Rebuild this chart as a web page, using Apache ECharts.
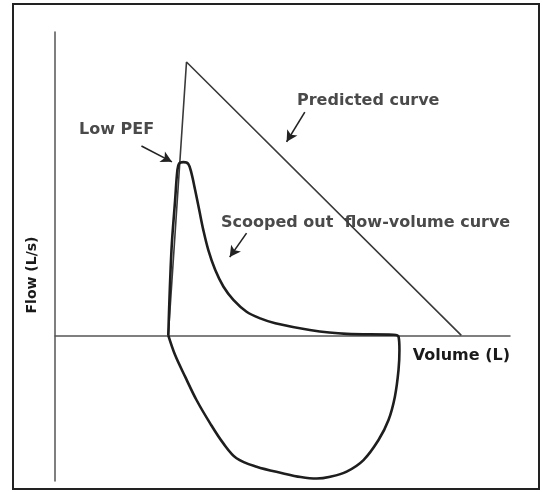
<!DOCTYPE html>
<html>
<head>
<meta charset="utf-8">
<script src="https://cdn.jsdelivr.net/npm/echarts@6/dist/echarts.min.js"></script>
<style>
  html, body { margin: 0; padding: 0; background: #fff; }
  #chart { width: 542px; height: 492px; }
</style>
</head>
<body>
<div id="chart"></div>
<script>
// volume (L) and flow (L/s), arbitrary units
const loopVolume = [2.49, 2.56, 2.64, 2.69, 2.73, 2.82, 2.93, 3.00, 3.08, 3.17, 3.26, 3.37, 3.52, 3.70, 3.92, 4.21, 4.51, 4.84, 5.60, 6.41, 7.44, 7.55,
  7.57, 7.55, 7.47, 7.33, 7.11, 6.78, 6.41, 6.05, 5.75, 5.40, 5.02, 4.43, 3.99, 3.70, 3.41, 3.11, 2.86, 2.64, 2.49]
const loopFlow = [0, 2.81, 4.46, 5.45, 5.67, 5.71, 5.65, 5.34, 4.79, 4.13, 3.47, 2.81, 2.16, 1.61, 1.17, 0.78, 0.56, 0.40, 0.18, 0.05, 0.02, -0.04,
  -0.48, -1.14, -2.02, -2.79, -3.45, -4.11, -4.49, -4.66, -4.72, -4.67, -4.55, -4.33, -4.05, -3.56, -2.90, -2.13, -1.36, -0.65, 0]

const predictedVolume = [2.49, 2.89, 8.93]
const predictedFlow = [0, 9.01, 0]

// annotation arrows: [tailX, tailY, headX, headY]
const arrows = [
  [1.90, 6.24, 2.57, 5.72],  // Low PEF
  [5.49, 7.36, 5.09, 6.38],  // Predicted curve
  [4.21, 3.37, 3.84, 2.58]   // Scooped out
]

const chart = echarts.init(document.getElementById('chart'))

const zip = (xs, ys) => xs.map((x, i) => [x, ys[i]])

const textStyle = {
  fontFamily: 'DejaVu Sans',
  fontWeight: 'bold',
  fontSize: 16,
  fill: '#4a4a4a'
}

const option = {
  backgroundColor: '#fff',
  animation: false,
  grid: { left: 55, top: 32, width: 455, height: 449 },
  xAxis: {
    type: 'value',
    min: 0,
    max: 10,
    axisLine: { onZero: true, lineStyle: { color: '#555', width: 1.5 } },
    axisTick: { show: false },
    axisLabel: { show: false },
    splitLine: { show: false },
    name: 'Volume (L)',
    nameLocation: 'end',
    nameGap: 0,
    nameTextStyle: {
      fontFamily: 'DejaVu Sans',
      fontWeight: 'bold',
      fontSize: 16,
      color: '#1a1a1a',
      align: 'right',
      verticalAlign: 'top',
      padding: [12, 0, 0, 0]
    }
  },
  yAxis: {
    type: 'value',
    min: -4.8,
    max: 10,
    axisLine: { show: true, onZero: false, lineStyle: { color: '#555', width: 1.5 } },
    axisTick: { show: false },
    axisLabel: { show: false },
    splitLine: { show: false }
  },
  graphic: [
    { type: 'rect', shape: { x: 13, y: 4, width: 526, height: 485 },
      style: { fill: 'none', stroke: '#222', lineWidth: 2 } },
    { type: 'text', x: 32, y: 275, rotation: Math.PI / 2,
      style: { text: 'Flow (L/s)', fontFamily: 'DejaVu Sans', fontWeight: 'bold', fontSize: 14,
        fill: '#1a1a1a', align: 'center', verticalAlign: 'middle' } },
    { type: 'text', x: 79, y: 130,
      style: Object.assign({ text: 'Low PEF', verticalAlign: 'middle' }, textStyle) },
    { type: 'text', x: 297, y: 101,
      style: Object.assign({ text: 'Predicted curve', verticalAlign: 'middle' }, textStyle) },
    { type: 'text', x: 221, y: 223,
      style: Object.assign({ text: 'Scooped out  flow-volume curve', verticalAlign: 'middle' }, textStyle) }
  ],
  series: [
    {
      name: 'Predicted curve',
      type: 'line',
      data: zip(predictedVolume, predictedFlow),
      symbol: 'none',
      lineStyle: { color: '#3a3a3a', width: 1.6 },
      markLine: {
        silent: true,
        symbol: ['none', 'arrow'],
        symbolSize: [9, 11],
        label: { show: false },
        lineStyle: { color: '#222', width: 1.6, type: 'solid' },
        data: arrows.map(a => [{ coord: [a[0], a[1]] }, { coord: [a[2], a[3]] }])
      }
    },
    {
      name: 'Flow-volume curve',
      type: 'line',
      data: zip(loopVolume, loopFlow),
      symbol: 'none',
      smooth: 0.35,
      lineStyle: { color: '#1e1e1e', width: 2.6 }
    }
  ]
}

chart.setOption(option)
</script>
</body>
</html>
